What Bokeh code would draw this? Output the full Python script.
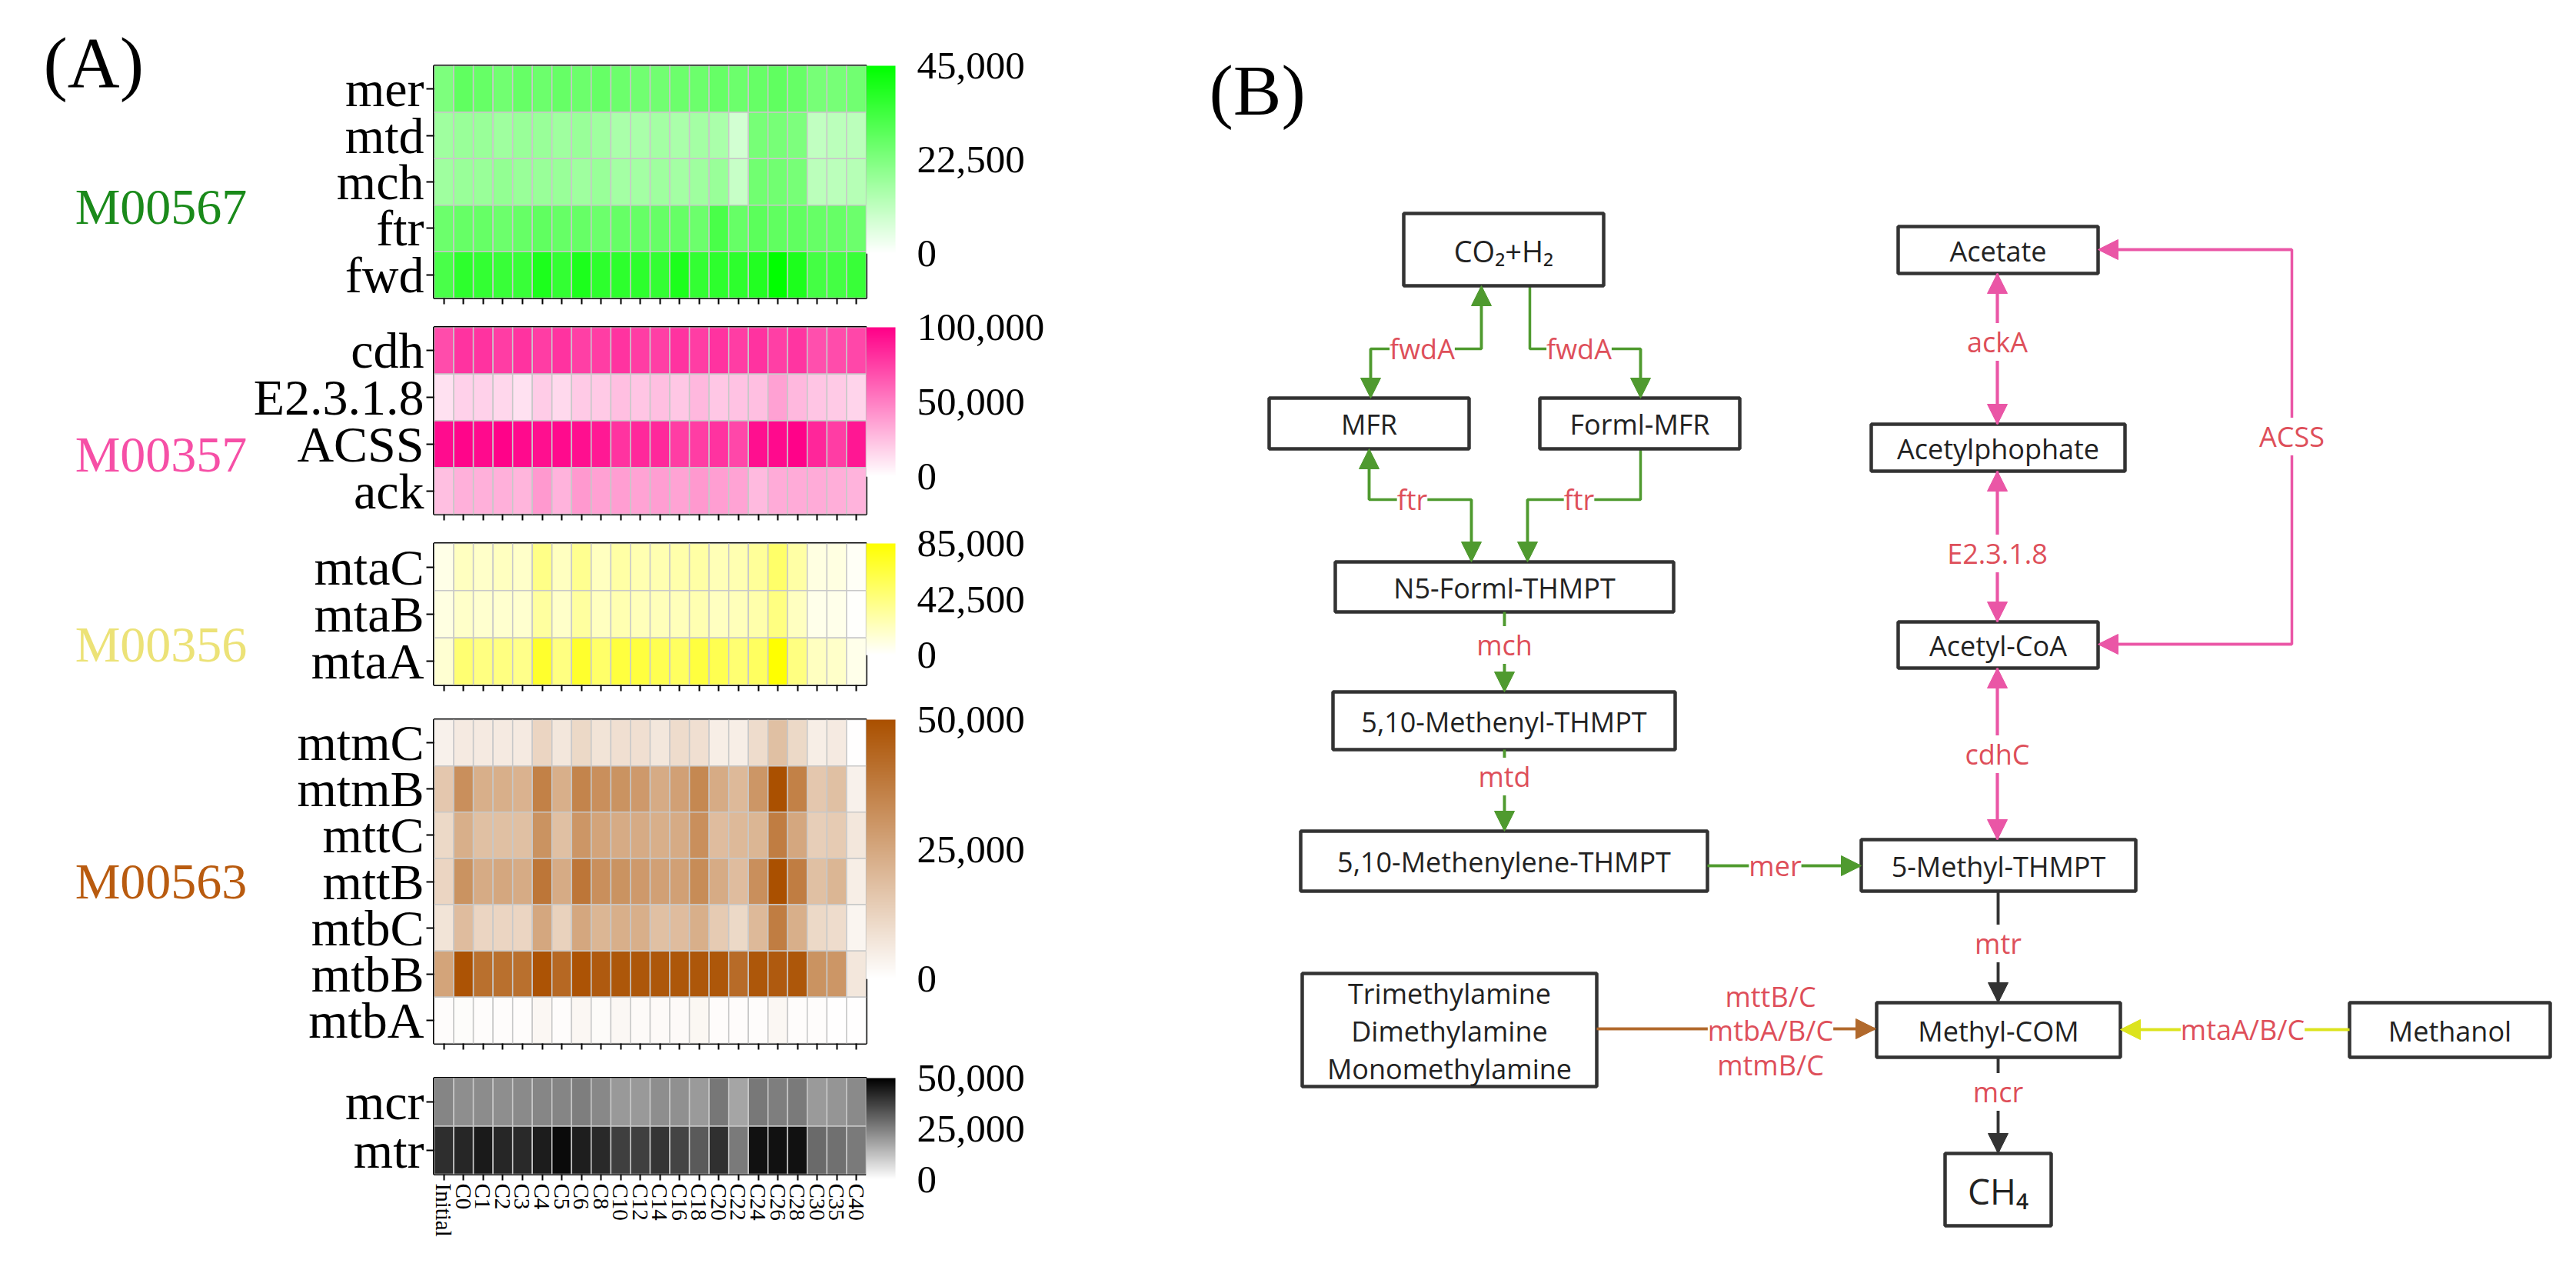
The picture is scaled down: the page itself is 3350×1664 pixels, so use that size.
from bokeh.plotting import figure
from bokeh.models import (ColumnDataSource, LinearColorMapper, ColorBar, FixedTicker,
                          NumeralTickFormatter, Label, FactorRange, Range1d, Arrow, NormalHead)
from bokeh.layouts import column, row
from bokeh.core.properties import value
from bokeh.embed import file_html
from bokeh.resources import INLINE

# ---------------- data (panel A) ----------------
samples = ["Initial", "C0", "C1", "C2", "C3", "C4", "C5", "C6", "C8", "C10", "C12", "C14",
           "C16", "C18", "C20", "C22", "C24", "C26", "C28", "C30", "C35", "C40"]

genes_567 = ["mer", "mtd", "mch", "ftr", "fwd"]
mer = [23000, 28000, 27000, 25000, 27000, 26000, 27000, 26000, 27000, 26000, 25000, 25000, 26000, 26000, 27000, 26000, 27000, 28000, 27000, 24000, 24000, 25000]
mtd = [17000, 18000, 18000, 17000, 18000, 18000, 17000, 18000, 17000, 15000, 15000, 16000, 15000, 16000, 15000, 8000, 24000, 24000, 23000, 11000, 12000, 12000]
mch = [17000, 18000, 18000, 19000, 18000, 18000, 18000, 17000, 18000, 16000, 16000, 17000, 16000, 17000, 18000, 10000, 25000, 25000, 24000, 12000, 12000, 13000]
ftr = [26000, 27000, 27000, 26000, 27000, 28000, 27000, 27000, 26000, 27000, 27000, 27000, 27000, 26000, 32000, 27000, 29000, 28000, 28000, 27000, 27000, 26000]
fwd = [32000, 37000, 36000, 35000, 35000, 40000, 36000, 40000, 37000, 37000, 37000, 36000, 40000, 36000, 37000, 37000, 39000, 45000, 40000, 33000, 33000, 35000]

genes_357 = ["cdh", "E2.3.1.8", "ACSS", "ack"]
cdh = [70000, 80000, 80000, 76000, 80000, 76000, 80000, 75000, 76000, 80000, 76000, 75000, 80000, 76000, 80000, 76000, 80000, 75000, 79000, 69000, 70000, 72000]
e2318 = [12000, 18000, 18000, 16000, 12000, 20000, 15000, 21000, 21000, 25000, 23000, 25000, 22000, 28000, 22000, 24000, 25000, 37000, 28000, 23000, 21000, 17000]
acss = [95000, 98000, 96000, 99000, 96000, 94000, 96000, 94000, 90000, 80000, 84000, 84000, 76000, 76000, 80000, 72000, 94000, 96000, 99000, 85000, 76000, 91000]
ack = [25000, 31000, 31000, 31000, 29000, 40000, 30000, 40000, 37000, 38000, 36000, 38000, 36000, 40000, 38000, 36000, 27000, 33000, 33000, 33000, 32000, 30000]

genes_356 = ["mtaC", "mtaB", "mtaA"]
mtac = [8000, 21000, 18000, 21000, 18000, 40000, 21000, 37000, 21000, 30000, 26000, 26000, 28000, 30000, 24000, 26000, 34000, 50000, 30000, 10000, 10000, 3000]
mtab = [10000, 18000, 16000, 16000, 16000, 32000, 18000, 32000, 21000, 26000, 23000, 23000, 23000, 26000, 21000, 23000, 28000, 42000, 21000, 7000, 7000, 1000]
mtaa = [15000, 47000, 42000, 42000, 39000, 70000, 42000, 70000, 50000, 64000, 64000, 58000, 53000, 64000, 58000, 47000, 53000, 85000, 42000, 21000, 18000, 7000]

genes_563 = ["mtmC", "mtmB", "mttC", "mttB", "mtbC", "mtbB", "mtbA"]
mtmc = [4000, 6000, 6000, 6000, 6000, 12000, 7000, 11000, 8000, 9000, 9000, 7000, 10000, 9000, 5000, 5000, 10000, 18000, 11000, 5000, 6000, 300]
mtmb = [16000, 32000, 23000, 23000, 22000, 36000, 23000, 35000, 32000, 31000, 29000, 24000, 27000, 34000, 24000, 20000, 30000, 50000, 36000, 16000, 18000, 4000]
mttc = [11000, 23000, 18000, 18000, 18000, 31000, 18000, 30000, 26000, 24000, 24000, 23000, 24000, 32000, 19000, 20000, 21000, 37000, 25000, 14000, 15000, 7000]
mttb = [12000, 31000, 24000, 25000, 24000, 39000, 24000, 39000, 32000, 31000, 29000, 27000, 27000, 33000, 24000, 19000, 32000, 50000, 37000, 18000, 21000, 5000]
mtbc = [8000, 19000, 12000, 12000, 12000, 25000, 13000, 25000, 21000, 23000, 23000, 18000, 19000, 23000, 15000, 11000, 20000, 37000, 23000, 11000, 10000, 3000]
mtbb = [26000, 49000, 41000, 41000, 41000, 49000, 43000, 49000, 47000, 48000, 48000, 48000, 48000, 48000, 48000, 42000, 48000, 47000, 48000, 31000, 30000, 7000]
mtba = [800, 1000, 800, 800, 800, 2500, 800, 2500, 1200, 2200, 1500, 1500, 1500, 2500, 800, 800, 800, 2500, 800, 800, 200, 200]

genes_core = ["mcr", "mtr"]
mcr = [23900, 22200, 22500, 22200, 22900, 23700, 23900, 25300, 23300, 20000, 20000, 22200, 21800, 19800, 26700, 17600, 26500, 25300, 26100, 19800, 20800, 22900]
mtr = [41000, 42500, 44900, 42500, 41800, 44500, 48000, 44100, 41800, 37500, 37600, 39600, 36700, 32400, 40600, 26100, 46500, 46500, 46500, 29200, 28000, 26100]

ticks_567 = [0, 22500, 45000]
ticks_357 = [0, 50000, 100000]
ticks_356 = [0, 42500, 85000]
ticks_563 = [0, 25000, 50000]
ticks_core = [0, 25000, 50000]

module_names = ["M00567", "M00357", "M00356", "M00563"]
module_colors = ["#1A8A1A", "#F64FA6", "#ECE277", "#B95B0F"]

SERIF = "Liberation Serif"
SANS = "Open Sans"
LAB_W = 325          # width of the left label strip (page px)
FRAME_W = 562
PANEL_H = 1648


def ramp(lo, hi, n=256):
    a = [int(lo[i:i + 2], 16) for i in (1, 3, 5)]
    b = [int(hi[i:i + 2], 16) for i in (1, 3, 5)]
    out = []
    for k in range(n):
        t = k / (n - 1)
        out.append("#%02x%02x%02x" % tuple(int(round(a[j] + (b[j] - a[j]) * t)) for j in range(3)))
    return out


def heatmap(genes, vals, hi_color, ticks, bar_len, frame_h, top, bottom, last=False):
    p = figure(x_range=FactorRange(factors=samples), y_range=FactorRange(factors=genes[::-1]),
               frame_width=FRAME_W, frame_height=frame_h, title=None,
               min_border_left=564 - LAB_W, min_border_right=274,
               min_border_top=top, min_border_bottom=bottom,
               output_backend="svg", toolbar_location=None, tools="")
    xs, ys, vs = [], [], []
    for g, rv in zip(genes, vals):
        for s, v in zip(samples, rv):
            xs.append(s)
            ys.append(g)
            vs.append(v)
    src = ColumnDataSource(dict(x=xs, y=ys, v=vs))
    mapper = LinearColorMapper(palette=ramp("#FFFFFF", hi_color), low=ticks[0], high=ticks[-1])
    p.rect("x", "y", 1, 1, source=src, fill_color={"field": "v", "transform": mapper},
           line_color="#C8C8C8", line_width=1.5)

    p.grid.visible = False
    p.outline_line_color = "black"
    p.outline_line_width = 3
    for ax in (p.xaxis, p.yaxis):
        ax.axis_line_color = None
        ax.major_tick_in = 0
        ax.major_tick_line_width = 2
        ax.major_tick_line_color = "black"
        ax.minor_tick_line_color = None
    p.xaxis.major_tick_out = 8
    p.yaxis.major_tick_out = 10
    p.yaxis.major_label_text_font = SERIF
    p.yaxis.major_label_text_font_size = "66px"
    p.yaxis.major_label_text_color = "black"
    p.yaxis.major_label_standoff = 3
    if last:
        p.xaxis.major_label_orientation = "vertical"
        p.xaxis.major_label_text_font = SERIF
        p.xaxis.major_label_text_font_size = "29px"
        p.xaxis.major_label_text_color = "black"
        p.xaxis.major_label_standoff = 4
    else:
        p.xaxis.major_label_text_color = None
        p.xaxis.major_label_text_font_size = "1px"
        p.xaxis.major_label_standoff = 0

    cb = ColorBar(color_mapper=mapper, ticker=FixedTicker(ticks=ticks),
                  formatter=NumeralTickFormatter(format="0,0"),
                  width=38, height=bar_len, location="top_left", margin=0, padding=0,
                  label_standoff=28, major_label_text_font=SERIF,
                  major_label_text_font_size="51px", major_label_text_color="black",
                  major_tick_line_color=None, minor_tick_line_color=None,
                  bar_line_color=None, border_line_color=None)
    p.add_layout(cb, "right")
    return p


f1 = heatmap(genes_567, [mer, mtd, mch, ftr, fwd], "#00FF00", ticks_567, 244, 302, 85, 9)
f2 = heatmap(genes_357, [cdh, e2318, acss, ack], "#FF0088", ticks_357, 194, 243, 29, 9)
f3 = heatmap(genes_356, [mtac, mtab, mtaa], "#FFFF00", ticks_356, 145, 184, 29, 13)
f4 = heatmap(genes_563, [mtmc, mtmb, mttc, mttb, mtbc, mtbb, mtba], "#AA5000", ticks_563, 337,
             421, 32, 13)
f5 = heatmap(genes_core, [mcr, mtr], "#000000", ticks_core, 132, 125, 32, 122, last=True)

# left strip with the (A) tag and the module names (screenshot coordinates)
strip = figure(x_range=Range1d(8, 8 + LAB_W), y_range=Range1d(8 + PANEL_H, 8),
               frame_width=LAB_W, frame_height=PANEL_H, min_border=0, title=None,
               x_axis_type=None, y_axis_type=None,
               output_backend="svg", toolbar_location=None, tools="")
strip.grid.visible = False
strip.outline_line_color = None
strip.text(x=[64], y=[88], text=["(A)"], text_font=value(SERIF), text_font_size=value("94px"),
           text_color="black", text_align="left", text_baseline="middle")
strip.text(x=[217] * 4, y=[276, 598, 845, 1153], text=module_names,
           text_font=value(SERIF), text_font_size=value("66px"),
           text_color=module_colors, text_align="center", text_baseline="middle")

panel_a = row(strip, column(f1, f2, f3, f4, f5))

# ---------------- panel B (pathway diagram) ----------------
GREEN = "#4F9A2F"
PINK = "#EA56A6"
BROWN = "#B1692C"
YELLOW = "#DCE31D"
DARK = "#333333"
RED = "#DE4F5A"

# box: (lines of text, left, right, top, bottom, font px)
boxes = [
    (["CO\u2082+H\u2082"], 1833, 2093, 285, 379, 38),
    (["MFR"], 1658, 1918, 525, 591, 36),
    (["Forml-MFR"], 2010, 2270, 525, 591, 36),
    (["N5-Forml-THMPT"], 1744, 2184, 738, 803, 36),
    (["5,10-Methenyl-THMPT"], 1741, 2186, 907, 982, 36),
    (["5,10-Methenylene-THMPT"], 1699, 2228, 1088, 1166, 36),
    (["Trimethylamine", "Dimethylamine", "Monomethylamine"], 1701, 2084, 1273, 1420, 36),
    (["Acetate"], 2476, 2736, 302, 363, 36),
    (["Acetylphophate"], 2441, 2771, 559, 620, 36),
    (["Acetyl-CoA"], 2476, 2736, 816, 876, 36),
    (["5-Methyl-THMPT"], 2428, 2785, 1099, 1166, 36),
    (["Methyl-COM"], 2448, 2765, 1311, 1382, 36),
    (["Methanol"], 3063, 3324, 1311, 1382, 36),
    (["CH\u2084"], 2537, 2675, 1507, 1601, 46),
]

# edges: (color, path points, head at start, head at end, labels [(text, x, y)])
edges = [
    (GREEN, [(1934, 379), (1934, 461), (1790, 461), (1790, 525)], True, True, [("fwdA", 1857, 461)]),
    (GREEN, [(1997, 379), (1997, 461), (2141, 461), (2141, 525)], False, True, [("fwdA", 2061, 461)]),
    (GREEN, [(1788, 591), (1788, 657), (1921, 657), (1921, 738)], True, True, [("ftr", 1844, 657)]),
    (GREEN, [(2141, 591), (2141, 657), (1994, 657), (1994, 738)], False, True, [("ftr", 2061, 657)]),
    (GREEN, [(1964, 803), (1964, 907)], False, True, [("mch", 1964, 846)]),
    (GREEN, [(1964, 982), (1964, 1088)], False, True, [("mtd", 1964, 1017)]),
    (GREEN, [(2228, 1133), (2428, 1133)], False, True, [("mer", 2316, 1133)]),
    (PINK, [(2605, 363), (2605, 559)], True, True, [("ackA", 2605, 452)]),
    (PINK, [(2605, 620), (2605, 816)], True, True, [("E2.3.1.8", 2605, 727)]),
    (PINK, [(2605, 876), (2605, 1099)], True, True, [("cdhC", 2605, 988)]),
    (PINK, [(2736, 332), (2988, 332), (2988, 845), (2736, 845)], True, True, [("ACSS", 2988, 575)]),
    (DARK, [(2606, 1166), (2606, 1311)], False, True, [("mtr", 2606, 1234)]),
    (DARK, [(2606, 1382), (2606, 1507)], False, True, [("mcr", 2606, 1427)]),
    (BROWN, [(2084, 1345), (2447, 1345)], False, True,
     [("mttB/C", 2310, 1303), ("mtbA/B/C", 2310, 1347), ("mtmB/C", 2310, 1392)]),
    (YELLOW, [(3063, 1346), (2765, 1346)], False, True, [("mtaA/B/C", 2924, 1346)]),
]

pb = figure(x_range=Range1d(1408, 3342), y_range=Range1d(1656, 8),
            frame_width=1934, frame_height=PANEL_H, min_border=0, title=None,
            x_axis_type=None, y_axis_type=None,
            output_backend="svg", toolbar_location=None, tools="")
pb.grid.visible = False
pb.outline_line_color = None

for color, pts, hs, he, labs in edges:
    pb.line([q[0] for q in pts], [q[1] for q in pts], line_color=color, line_width=3.5)
    if he:
        pb.add_layout(Arrow(end=NormalHead(size=26, fill_color=color, line_color=color),
                            x_start=pts[-2][0], y_start=pts[-2][1],
                            x_end=pts[-1][0], y_end=pts[-1][1],
                            line_color=color, line_width=3.5))
    if hs:
        pb.add_layout(Arrow(end=NormalHead(size=26, fill_color=color, line_color=color),
                            x_start=pts[1][0], y_start=pts[1][1],
                            x_end=pts[0][0], y_end=pts[0][1],
                            line_color=color, line_width=3.5))

for color, pts, hs, he, labs in edges:
    for t, lx, ly in labs:
        pb.add_layout(Label(x=lx, y=ly, text=t, text_font=SANS, text_font_size="36px",
                            text_color=RED, text_align="center", text_baseline="middle",
                            background_fill_color="white"))

pb.quad(left=[b[1] for b in boxes], right=[b[2] for b in boxes],
        top=[b[3] for b in boxes], bottom=[b[4] for b in boxes],
        fill_color="white", line_color=DARK, line_width=4.5)

tx, ty, tt, ts = [], [], [], []
for lines, l, r, t, b, fs in boxes:
    h = (b - t) / len(lines)
    for i, s in enumerate(lines):
        tx.append((l + r) / 2)
        ty.append(t + h * (i + 0.5) + 1)
        tt.append(s)
        ts.append(f"{fs}px")
src_t = ColumnDataSource(dict(x=tx, y=ty, text=tt, fs=ts))
pb.text(x="x", y="y", text="text", text_font_size="fs", source=src_t, text_align="center",
        text_baseline="middle", text_font=value(SANS), text_color="#222222")

pb.text(x=[1580], y=[124], text=["(B)"], text_font=value(SERIF), text_font_size=value("94px"),
        text_color="black", text_align="left", text_baseline="middle")

layout = row(panel_a, pb)
open("out.html", "w").write(file_html(layout, INLINE))
